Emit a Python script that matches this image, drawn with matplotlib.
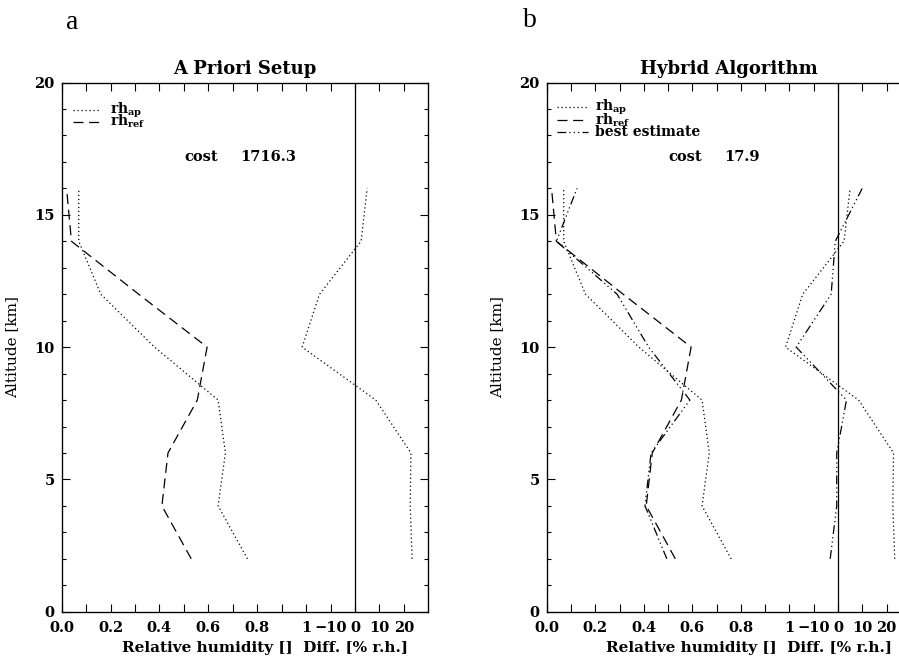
import matplotlib.pyplot as plt
from matplotlib.ticker import MultipleLocator

# Altitude levels [km]
alt = [2, 4, 6, 8, 10, 12, 14, 16]

# Relative humidity profiles []
rh_ap = [0.76, 0.64, 0.67, 0.64, 0.38, 0.16, 0.07, 0.07]
rh_ref = [0.53, 0.41, 0.435, 0.555, 0.595, 0.315, 0.04, 0.02]
rh_best = [0.495, 0.405, 0.43, 0.59, 0.42, 0.29, 0.04, 0.125]

# Differences to rh_ref [% r.h.]
diff_ap = [23.4, 22.6, 22.9, 8.5, -21.6, -14.5, 2.5, 5.0]
diff_best = [-3.2, -0.5, -0.5, 3.5, -17.2, -2.8, -1.1, 10.0]

cost_a = '1716.3'
cost_b = '17.9'

xtick_pos = [i / 10 for i in range(15)]
xtick_lab = ['0.0', '', '0.2', '', '0.4', '', '0.6', '', '0.8', '', '1',
             '\u221210', '0', '10', '20']

plt.rcParams['font.family'] = 'DejaVu Serif'
plt.rcParams['font.weight'] = 'bold'
plt.rcParams['mathtext.fontset'] = 'dejavuserif'

# Linienstile (IDL-artig)
ls_dot = (0, (1, 2.2))
ls_dash = (0, (8, 4.5))
ls_dd = (0, (7, 2.5, 1, 2.5, 1, 2.5, 1, 2.5))

fig = plt.figure(figsize=(8.99, 6.56), dpi=100)


def panel(rect, title, cost, with_best):
    ax = fig.add_axes(rect)
    ax2 = ax.twiny()
    ax.set_xlim(0, 1.5)
    ax.set_ylim(0, 20)
    ax2.set_xlim(-120, 30)
    ax2.tick_params(top=False, labeltop=False)

    ax.plot(rh_ap, alt, color='black', lw=0.9, ls=ls_dot)
    ax.plot(rh_ref, alt, color='black', lw=0.9, ls=ls_dash)
    ax2.plot(diff_ap, alt, color='black', lw=0.9, ls=ls_dot)
    if with_best:
        ax.plot(rh_best, alt, color='black', lw=0.9, ls=ls_dd)
        ax2.plot(diff_best, alt, color='black', lw=0.9, ls=ls_dd)
    ax2.axvline(0, color='black', lw=0.9)

    ax.set_xticks(xtick_pos)
    ax.set_xticklabels(xtick_lab)
    ax.yaxis.set_major_locator(MultipleLocator(5))
    ax.yaxis.set_minor_locator(MultipleLocator(1))
    ax.tick_params(which='both', direction='in', top=True, right=True,
                   labelsize=10.5, width=0.8)
    ax.tick_params(which='major', length=6)
    ax.tick_params(which='minor', length=3)
    ax.tick_params(axis='x', pad=7)
    ax.tick_params(axis='y', pad=5)
    for s in ax.spines.values():
        s.set_linewidth(0.9)

    ax.set_ylabel('Altitude [km]', fontsize=11)
    ax.yaxis.set_label_coords(-0.117, 0.5)
    ax.text(0.555, -0.068, 'Relative humidity []  Diff. [% r.h.]',
            transform=ax.transAxes, ha='center', va='center', fontsize=11)
    ax.text(0.5, 1.017, title, transform=ax.transAxes, ha='center',
            va='baseline', fontsize=13)

    # Legende
    labels = [r'rh$_{\mathbf{ap}}$', r'rh$_{\mathbf{ref}}$']
    styles = [ls_dot, ls_dash]
    if with_best:
        labels.append('best estimate')
        styles.append(ls_dd)
        x0, x1, ys, dy = 0.028, 0.114, 0.953, 0.0235
    else:
        x0, x1, ys, dy = 0.031, 0.104, 0.948, 0.022
    for i, (lab, st) in enumerate(zip(labels, styles)):
        y = ys - i * dy
        ax.plot([x0, x1], [y, y], transform=ax.transAxes, color='black',
                lw=0.9, ls=st)
        ax.text(0.133, y, lab, transform=ax.transAxes, ha='left',
                va='center', fontsize=10)

    ax.text(0.334, 0.859, 'cost', transform=ax.transAxes, ha='left',
            va='center', fontsize=10.5)
    ax.text(0.488, 0.859, cost, transform=ax.transAxes, ha='left',
            va='center', fontsize=10.5)
    return ax


panel([0.0686, 0.0675, 0.4078, 0.8067], 'A Priori Setup', cost_a, False)
panel([0.6081, 0.0675, 0.4050, 0.8067], 'Hybrid Algorithm', cost_b, True)

fig.text(0.080, 0.966, 'a', fontsize=20, family='Liberation Serif',
         weight='normal', ha='center', va='center')
fig.text(0.590, 0.969, 'b', fontsize=20, family='Liberation Serif',
         weight='normal', ha='center', va='center')

fig.savefig('out.png', dpi=100)
